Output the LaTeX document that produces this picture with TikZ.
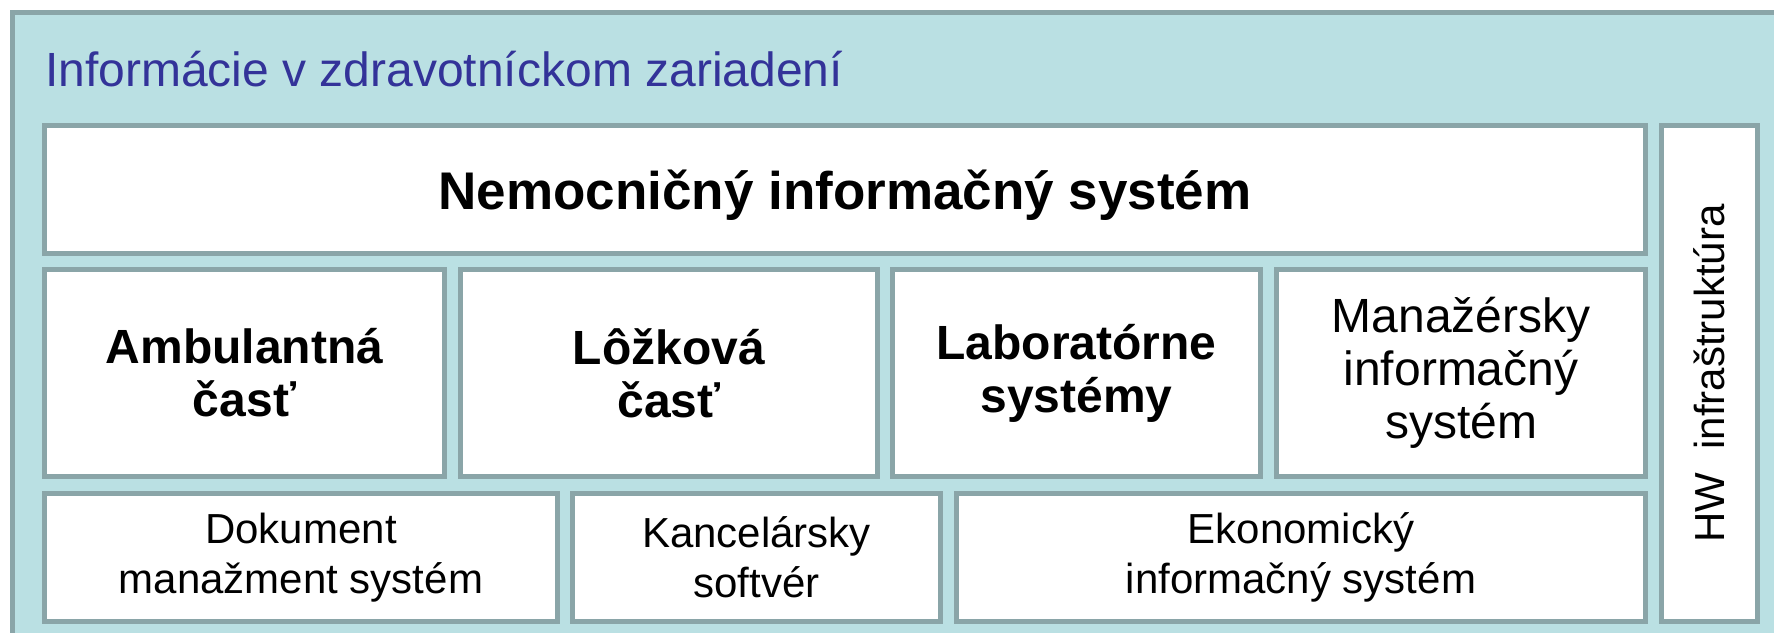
\documentclass[tikz,border=0pt]{standalone}
\usepackage{fontspec}
\setmainfont{Liberation Sans}
\definecolor{frameblue}{HTML}{BAE0E3}
\definecolor{boxline}{HTML}{8AA5A8}
\definecolor{titleblue}{HTML}{333399}

\begin{document}
\begin{tikzpicture}[x=1pt,y=-1pt,
        box/.style={draw=boxline,line width=5pt,fill=white,inner sep=0pt,
            align=center},
        big/.style={font=\fontsize{48}{53}\selectfont},
        bigbold/.style={font=\bfseries\fontsize{48}{53}\selectfont},
        small/.style={font=\fontsize{42}{50}\selectfont}]
\useasboundingbox (0,0) rectangle (1774,632);
\fill[white] (0,0) rectangle (1774,632);
\draw[boxline, fill=frameblue, line width=5pt] (12.5,12.5) rectangle (1800,660);

\node[anchor=base west, inner sep=0pt, text=titleblue, big] (title) at (45,86)
    {Informácie v zdravotníckom zariadení};

% horny riadok
\node[box, minimum width=1601pt, minimum height=128pt, text depth=0pt,
    font=\bfseries\fontsize{53}{58}\selectfont] (nis) at (845,189.5)
    {Nemocničný informačný systém};

% stredny riadok
\node[box, bigbold, minimum width=400pt, minimum height=207pt] (amb) at (244.5,373) {Ambulantná\\časť};
\node[box, bigbold, minimum width=417pt, minimum height=207pt] (loz) at (669,373) {Lôžková\\časť};
\node[box, bigbold, minimum width=368pt, minimum height=207pt] (lab) at (1076.5,373) {Laboratórne\\systémy};
\node[box, big, minimum width=369pt, minimum height=207pt] (man) at (1461,373) {Manažérsky\\informačný\\systém};

% spodny riadok
\node[box, small, minimum width=513pt, minimum height=128pt] (dok) at (301,557.5) {Dokument\\manažment systém};
\node[box, small, minimum width=368pt, minimum height=128pt] (kan) at (756.5,557.5) {Kancelársky\\softvér};
\node[box, small, minimum width=689pt, minimum height=128pt] (eko) at (1301,557.5) {Ekonomický\\informačný systém};

\node[box, small, rotate=90, minimum width=496pt, minimum height=96pt] (hw) at (1709.5,373.5) {HW\ \ infraštruktúra};

\end{tikzpicture}
\end{document}
